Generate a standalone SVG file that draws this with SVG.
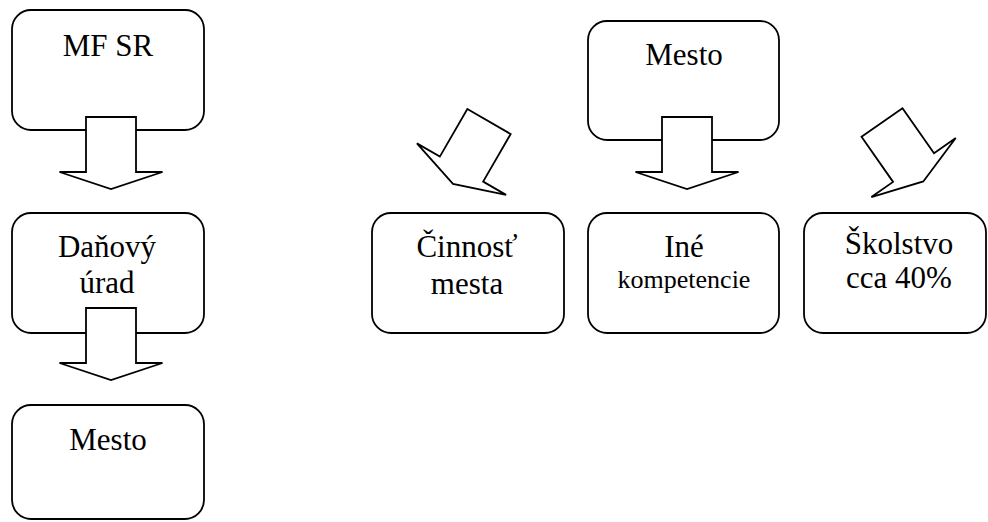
<svg xmlns="http://www.w3.org/2000/svg" width="988" height="522" viewBox="0 0 988 522">
<style>
.box{fill:#fff;stroke:#000;stroke-width:1.8}
.arr{fill:#fff;stroke:#000;stroke-width:1.8;stroke-linejoin:miter}
.t{fill:#000;text-anchor:middle}
.big{font-size:31px}
.small{font-size:26px}
</style>
<defs>
<path id="arrow" d="M-25,0 H25 V55 H51.5 L0,72 L-51.5,55 H-25 Z"/>
</defs>
<rect width="988" height="522" fill="#fff"/>
<g font-family="Liberation Serif, DejaVu Serif, serif">
<g id="n1"><rect class="box" x="12" y="10" width="192" height="120" rx="19"/><text class="t big" x="108" y="56">MF SR</text></g>
<g id="n2"><rect class="box" x="12" y="213" width="192" height="120" rx="19"/><text class="t big" x="107" y="257">Daňový</text><text class="t big" x="107" y="293">úrad</text></g>
<g id="n3"><rect class="box" x="12" y="405" width="192" height="114" rx="19"/><text class="t big" x="108" y="450">Mesto</text></g>
<g id="n4"><rect class="box" x="588" y="21" width="191" height="119" rx="19"/><text class="t big" x="684" y="65">Mesto</text></g>
<g id="n5"><rect class="box" x="372" y="213" width="192" height="120" rx="19"/><text class="t big" x="467" y="257">Činnosť</text><text class="t big" x="467" y="294">mesta</text></g>
<g id="n6"><rect class="box" x="588" y="213" width="191" height="120" rx="19"/><text class="t big" x="684" y="257">Iné</text><text class="t small" x="684" y="288">kompetencie</text></g>
<g id="n7"><rect class="box" x="804" y="213" width="182" height="120" rx="19"/><text class="t big" x="899" y="254">Školstvo</text><text class="t big" x="899" y="288">cca 40%</text></g>
</g>
<g id="connectors">
<use href="#arrow" class="arr" transform="translate(111,117)"/>
<use href="#arrow" class="arr" transform="translate(111,308)"/>
<use href="#arrow" class="arr" transform="translate(687,117)"/>
<use href="#arrow" class="arr" transform="translate(489,121.5) rotate(30)"/>
<use href="#arrow" class="arr" transform="translate(882,122.5) rotate(-35)"/>
</g>
</svg>
